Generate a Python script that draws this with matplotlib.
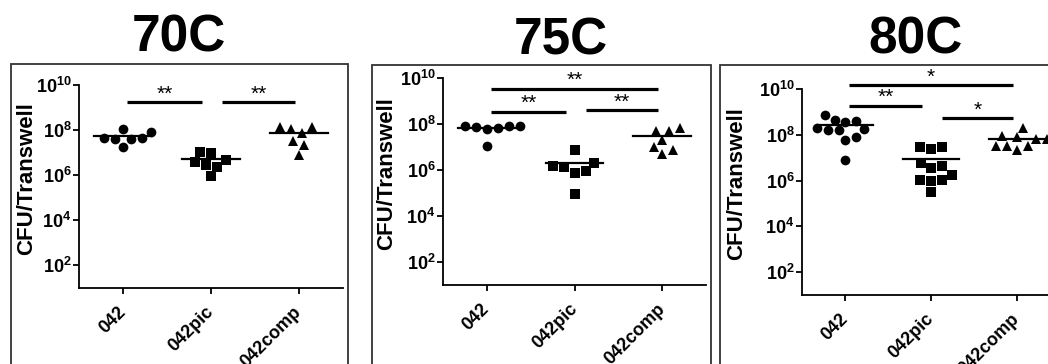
import numpy as np
import matplotlib
matplotlib.use('Agg')
import matplotlib.pyplot as plt
from matplotlib.patches import Rectangle
from matplotlib.ticker import FixedLocator, FuncFormatter, NullLocator

plt.rcParams['font.family'] = ['Liberation Sans', 'DejaVu Sans']
plt.rcParams['font.weight'] = 'bold'
plt.rcParams['mathtext.fontset'] = 'custom'
plt.rcParams['mathtext.rm'] = 'Liberation Sans:bold'
plt.rcParams['mathtext.bf'] = 'Liberation Sans:bold'
plt.rcParams['mathtext.it'] = 'Liberation Sans:bold'

groups = ['042', '042pic', '042comp']
titles = ['70C', '75C', '80C']

# log10(CFU/Transwell)
c70_042 = [8.07, 7.93, 7.63, 7.60, 7.60, 7.63, 7.26]
c70_pic = [6.99, 7.04, 6.59, 6.44, 6.67, 6.37, 5.96]
c70_comp = [8.15, 8.07, 8.12, 7.88, 7.53, 7.33, 6.89]

c75_042 = [7.93, 7.90, 7.85, 7.93, 7.80, 7.84, 7.06]
c75_pic = [6.89, 6.17, 5.97, 5.89, 6.11, 6.29, 4.97]
c75_comp = [7.71, 7.83, 7.71, 7.31, 7.00, 6.89, 6.69]

c80_042 = [8.87, 8.58, 8.62, 8.65, 8.22, 8.29, 8.19, 8.25, 7.90, 7.78, 6.91]
c80_pic = [7.45, 7.39, 7.46, 6.76, 6.57, 6.65, 6.25, 6.03, 5.99, 6.03, 5.48]
c80_comp = [8.29, 7.81, 7.95, 7.90, 7.81, 7.52, 7.35, 7.49, 7.52]

# significance: (group a, group b, log10 height of bar, stars)
sig70 = [(0, 1, 9.24, '**'), (1, 2, 9.24, '**')]
sig75 = [(0, 2, 9.54, '**'), (0, 1, 8.53, '**'), (1, 2, 8.60, '**')]
sig80 = [(0, 2, 10.17, '*'), (0, 1, 9.27, '**'), (1, 2, 8.72, '*')]

data = [[c70_042, c70_pic, c70_comp],
        [c75_042, c75_pic, c75_comp],
        [c80_042, c80_pic, c80_comp]]
sigs = [sig70, sig75, sig80]
markers = ['o', 's', '^']

# axes boxes in pixels (left, top, right, bottom) on a 1048x364 canvas
W, H = 1048, 364
boxes = [(79, 85, 343, 288), (443, 78, 706, 285), (802, 89, 1060, 295)]
frames = [(11, 64, 348), (372, 65, 711), (720, 65, 1065)]
title_xy = [(179, 38), (561, 41), (915, 40)]
ylab_x = [-0.159, -0.175, -0.213]


def swarm(vals, px_dec=22.8, px_unit=87.0, d=11.0):
    # simple beeswarm, returns x offsets in data units
    placed = []
    offs = np.zeros(len(vals))
    order = np.argsort(vals)
    cands = np.concatenate([[0], np.ravel([[k, -k] for k in np.arange(0.5, 40, 0.5)])])
    for i in order:
        y = vals[i] * px_dec
        for c in cands:
            if all((c - px) ** 2 + (y - py) ** 2 >= d * d for px, py in placed):
                placed.append((c, y))
                offs[i] = c / px_unit
                break
    return offs


fig = plt.figure(figsize=(W / 100, H / 100), dpi=100)

for p in range(3):
    l, t, r, b = boxes[p]
    ax = fig.add_axes([l / W, 1 - b / H, (r - l) / W, (b - t) / H])
    for g in range(3):
        v = np.array(data[p][g])
        xo = swarm(v)
        ax.plot(g + xo, 10 ** v, ls='', marker=markers[g], color='black',
                ms=7 if markers[g] != 's' else 6.5, mew=0, clip_on=False)
        m = np.mean(10 ** v)
        ax.plot([g - 0.33, g + 0.33], [m, m], color='black', lw=1.6, clip_on=False)
    for a, bb, h, s in sigs[p]:
        x0 = a + (0.05 if a == 0 else 0.13)
        x1 = bb - (0.1 if bb == 1 else 0.05)
        ax.plot([x0, x1], [10 ** h, 10 ** h], color='black', lw=2.3,
                solid_capstyle='butt', clip_on=False)
        ax.annotate(s, ((x0 + x1) / 2, 10 ** h), xytext=(0, -1), textcoords='offset points',
                    ha='center', va='bottom', fontsize=15, fontweight='normal',
                    annotation_clip=False)

    ax.set_yscale('log')
    ax.set_ylim(10, 1e10)
    ax.set_xlim(-0.5, 2.5)
    ax.yaxis.set_major_locator(FixedLocator([1e2, 1e4, 1e6, 1e8, 1e10]))
    ax.yaxis.set_minor_locator(NullLocator())
    ax.yaxis.set_major_formatter(FuncFormatter(lambda y, pos: r'$\mathbf{10^{%d}}$' % round(np.log10(y))))
    ax.set_xticks(range(3))
    ax.set_xticklabels(groups, rotation=45, ha='right', va='center', rotation_mode='anchor',
                       fontsize=12.5, fontweight='bold')
    for sp in ['top', 'right']:
        ax.spines[sp].set_visible(False)
    for sp in ['left', 'bottom']:
        ax.spines[sp].set_linewidth(1.3)
    ax.tick_params(axis='both', direction='out', length=4.5, width=1.3, labelsize=13)
    ax.tick_params(axis='x', pad=11)
    ax.tick_params(axis='y', pad=1)
    ax.set_ylabel('CFU/Transwell', fontsize=16, fontweight='bold')
    ax.yaxis.set_label_coords(ylab_x[p], 0.54)

    fx, ft, fr = frames[p]
    fig.add_artist(Rectangle((fx / W, -0.1), (fr - fx) / W, 1 - ft / H + 0.1,
                             transform=fig.transFigure, fill=False, lw=1.3,
                             edgecolor='#333333'))
    tx, ty = title_xy[p]
    fig.text(tx / W, 1 - ty / H, titles[p], ha='center', va='center',
             fontsize=37, fontweight='bold')

fig.savefig('out.png', dpi=100)
